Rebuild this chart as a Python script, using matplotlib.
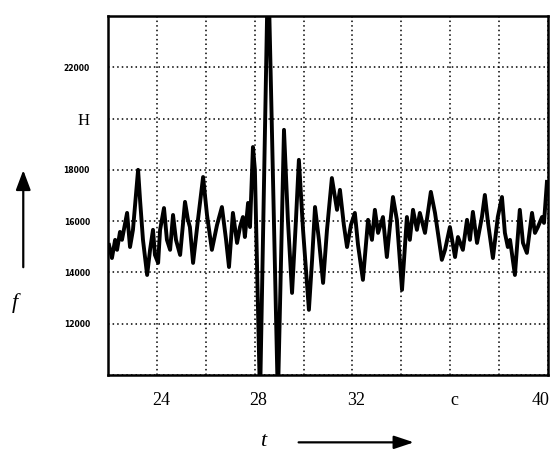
import matplotlib
matplotlib.use('Agg')
import matplotlib.pyplot as plt
from matplotlib.transforms import ScaledTranslation

# Signal
t_values = [22.04, 22.16, 22.29, 22.37, 22.49, 22.57, 22.78, 22.90, 23.02, 23.23,
            23.31, 23.43, 23.60, 23.72, 23.84, 23.92, 24.05, 24.13, 24.29, 24.41,
            24.54, 24.66, 24.78, 24.95, 25.15, 25.27, 25.35, 25.48, 25.68, 25.89,
            26.05, 26.25, 26.46, 26.66, 26.83, 26.95, 27.11, 27.28, 27.40, 27.52,
            27.60, 27.73, 27.81, 27.93, 28.01, 28.22, 28.55, 28.67, 28.95, 29.20,
            29.36, 29.53, 29.69, 29.81, 29.98, 30.22, 30.35, 30.47, 30.63, 30.80,
            30.96, 31.16, 31.37, 31.49, 31.65, 31.78, 31.94, 32.10, 32.23, 32.43,
            32.64, 32.80, 32.92, 33.05, 33.25, 33.41, 33.54, 33.66, 33.82, 34.03,
            34.23, 34.35, 34.48, 34.64, 34.76, 34.97, 35.21, 35.38, 35.66, 35.79,
            35.99, 36.20, 36.32, 36.52, 36.69, 36.81, 36.93, 37.10, 37.30, 37.42,
            37.55, 37.75, 37.95, 38.12, 38.24, 38.36, 38.45, 38.65, 38.85, 38.98,
            39.14, 39.35, 39.47, 39.59, 39.76, 39.84, 39.96]
f_values = [15070, 14560, 15270, 14880, 15580, 15270, 16320, 14990, 15660, 18000,
            16830, 15270, 13900, 14880, 15660, 14680, 14370, 15660, 16510, 15270,
            14880, 16240, 15270, 14680, 16750, 16050, 15770, 14370, 16050, 17720,
            16240, 14880, 15850, 16550, 15270, 14210, 16320, 15150, 15770, 16160,
            15380, 16710, 15770, 18890, 18000, 9030, 26190, 21120, 9030, 19560,
            16050, 13200, 16050, 18390, 15660, 12540, 14490, 16550, 15270, 13590,
            15660, 17680, 16440, 17220, 15850, 14990, 15850, 16320, 15070, 13710,
            16050, 15270, 16440, 15540, 16160, 14600, 15850, 16940, 16050, 13320,
            16160, 15270, 16440, 15660, 16320, 15540, 17140, 16320, 14490, 14880,
            15770, 14600, 15380, 14880, 16050, 15270, 16360, 15150, 16160, 17020,
            15930, 14560, 16160, 16940, 15540, 14990, 15270, 13900, 16440, 15150,
            14760, 16320, 15540, 15770, 16160, 15930, 17530]

x_ticks = [22, 24, 26, 28, 30, 32, 34, 36, 38, 40]
x_labels = ['', '24', '', '28', '', '32', '', 'c', '', '40']
y_ticks = [10000, 12000, 14000, 16000, 18000, 20000, 22000, 24000]
y_labels = ['', '12000', '14000', '16000', '18000', 'H', '22000', '']

fig = plt.figure(figsize=(5.54, 4.5), dpi=100)
ax = fig.add_axes([0.195, 0.1667, 0.794, 0.7978])

ax.plot(t_values, f_values, color='black', lw=2.8, solid_joinstyle='round')

ax.set_xlim(22, 40)
ax.set_ylim(10000, 24000)
ax.set_xticks(x_ticks)
ax.set_xticklabels(x_labels, family='Liberation Serif', fontsize=13)
ax.set_yticks(y_ticks)
ax.set_yticklabels(y_labels, fontsize=5.5, fontweight='bold')
ax.tick_params(axis='x', length=0, pad=12)
ax.tick_params(axis='y', length=0, pad=13)

# scanned labels sit a little right of their grid lines; "40" sits at the edge
for lab in ax.get_xticklabels():
    dx = -7 if lab.get_text() == '40' else 4
    lab.set_transform(lab.get_transform() + ScaledTranslation(dx / 100, 0, fig.dpi_scale_trans))

# the 20000 label is replaced by a serif "H"
for lab in ax.get_yticklabels():
    if lab.get_text() == 'H':
        lab.set_family('Liberation Serif')
        lab.set_fontweight('normal')
        lab.set_fontsize(12)

ax.grid(True, color='black', linestyle=(0, (1, 2)), linewidth=1.1)
for sp in ax.spines.values():
    sp.set_linewidth(1.8)
    sp.set_color('black')

# axis arrows and symbols
fig.text(0.027, 0.327, 'f', family='Liberation Serif', style='italic',
         fontsize=16, ha='center', va='center')
ax.annotate('', xy=(0.042, 0.628), xytext=(0.042, 0.40),
            xycoords='figure fraction', textcoords='figure fraction',
            arrowprops=dict(arrowstyle='-|>,head_length=1.2,head_width=0.45',
                            color='black', lw=1.6))
fig.text(0.475, 0.02, 't', family='Liberation Serif', style='italic',
         fontsize=16, ha='center', va='center')
ax.annotate('', xy=(0.752, 0.017), xytext=(0.534, 0.017),
            xycoords='figure fraction', textcoords='figure fraction',
            arrowprops=dict(arrowstyle='-|>,head_length=1.2,head_width=0.4',
                            color='black', lw=1.6))

fig.savefig('out.png', dpi=100)
